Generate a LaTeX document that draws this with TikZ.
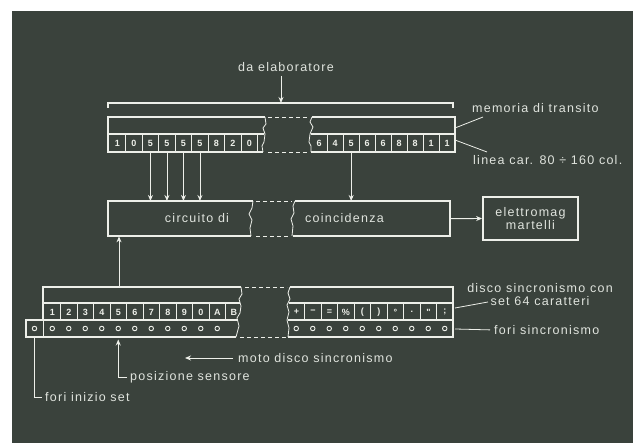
\documentclass[tikz,border=0pt]{standalone}
\usepackage{fontspec}
\setmainfont{Liberation Sans}
\newfontfamily\lblfam[LetterSpace=10]{Liberation Sans}
\newfontfamily\cellfam{Liberation Sans}
\usetikzlibrary{arrows.meta}
\definecolor{bg}{HTML}{3A423C}
\definecolor{ink}{HTML}{EDEFE9}
\definecolor{txt}{HTML}{E0E4DE}
\begin{document}
\begin{tikzpicture}[x=1pt,y=-1pt,
  ln/.style={draw=ink, line width=0.9pt},
  sep/.style={draw=ink, line width=0.9pt},
  boxln/.style={draw=ink, line width=1.8pt, line join=miter},
  jagln/.style={draw=ink, line width=0.8pt},
  dsh/.style={draw=ink, line width=0.8pt, dash pattern=on 4pt off 3pt},
  arr/.style={draw=ink, line width=0.9pt, -{Stealth[length=6pt,width=5pt]}},
  lbl/.style={text=txt, font=\lblfam\fontsize{12.5}{13}\selectfont, inner sep=0pt},
  cellt/.style={text=ink, font=\cellfam\bfseries\fontsize{9}{10}\selectfont, inner sep=0pt,
                minimum width=16.5pt, minimum height=17pt, anchor=north west},
  hole/.style={draw=ink, line width=0.9pt, circle, inner sep=0pt, minimum size=4.5pt},
  part/.style={inner sep=0pt, anchor=north west}
]
\useasboundingbox (0,0) rectangle (633,443);
\fill[white] (0,0) rectangle (633,443);
\fill[bg] (12,11) rectangle (633,443);

% ---------- labels ----------
\node[lbl] (elab) at (286,67) {da elaboratore};
\node[lbl, anchor=west] (memlab) at (472,108) {memoria di transito};
\node[lbl, anchor=west] (linlab) at (473,160) {linea car. 80 ÷ 160 col.};
\node[lbl, align=center] (disclab) at (540,295) {disco sincronismo con\\set 64 caratteri};
\node[lbl, anchor=west] (forilab) at (494,330) {fori sincronismo};
\node[lbl, anchor=west] (moto) at (238,358) {moto disco sincronismo};
\node[lbl, anchor=west] (posl) at (130,377) {posizione sensore};
\node[lbl, anchor=west] (fis) at (45,397) {fori inizio set};

% ---------- part anchors ----------
\node[part, minimum width=157pt, minimum height=35pt] (memL) at (108,117) {};
\node[part, minimum width=145pt, minimum height=35pt] (memR) at (310,117) {};
\node[part, minimum width=145pt, minimum height=35pt] (circL) at (108,201) {};
\node[part, minimum width=157pt, minimum height=35pt] (circR) at (293,201) {};
\node[part, minimum width=198pt, minimum height=50pt] (dL) at (43,287) {};
\node[part, minimum width=166pt, minimum height=50pt] (dR) at (287,287) {};
\node[draw=ink, line width=1.8pt, minimum width=95pt, minimum height=43pt, align=center,
      text=txt, font=\lblfam\fontsize{12.5}{13}\selectfont, inner sep=0pt] (elet) at (530.5,218.5) {elettromag\\martelli};

% ---------- bracket ----------
\coordinate (brk) at (281,103);
\draw[ln, line width=1.2pt] (108,108) -- (108,103) -- (453,103) -- (453,108);

% ---------- memoria di transito ----------
\draw[boxln] (265,117) -- (108,117) -- (108,152) -- (263,152);
\draw[boxln] (108,134) -- (264,134);
\draw[jagln] (265,117) -- (266,124) -- (263,128) -- (265,134) -- (264,142) -- (262,146) -- (263,152);
\draw[boxln] (312,117) -- (455,117) -- (455,152) -- (311,152);
\draw[boxln] (311,134) -- (455,134);
\draw[jagln] (312,117) -- (310,122) -- (313,127) -- (310,134) -- (309,142) -- (311,146) -- (311,152);
\draw[dsh] (268,117) -- (308,117);
\draw[dsh] (268,152) -- (308,152);
\foreach \c [count=\i from 0] in {1,0,5,5,5,5,8,2,0}
  \node[cellt] (mL\i) at (109+16.5*\i,134.5) {\c};
\foreach \i in {1,...,9} \draw[sep] (109+16.5*\i,134) -- ++(0,18);
\foreach \c [count=\i from 0] in {6,4,5,6,6,8,8,1,1}
  \node[cellt, minimum width=16pt] (mR\i) at (311+16*\i,134.5) {\c};
\foreach \i in {1,...,8} \draw[sep] (311+16*\i,134) -- ++(0,18);

% ---------- circuito di coincidenza ----------
\draw[boxln] (253,201) -- (108,201) -- (108,236) -- (251,236);
\draw[jagln] (253,201) -- (252,208) -- (249,214) -- (252,220) -- (250,228) -- (251,236);
\draw[boxln] (295,201) -- (450,201) -- (450,236) -- (293,236);
\draw[jagln] (295,201) -- (293,206) -- (294,213) -- (291,219) -- (293,226) -- (292,236);
\draw[dsh] (256,201) -- (292,201);
\draw[dsh] (256,236) -- (290,236);
\node[lbl] (circT) at (197,218) {circuito di};
\node[lbl, anchor=west] (coinT) at (305,218) {coincidenza};

% ---------- disco sincronismo ----------
\draw[boxln] (241,287) -- (43,287) -- (43,320) -- (26,320) -- (26,337) -- (236,337);
\draw[boxln] (43,303) -- (240,303);
\draw[boxln] (43,320) -- (238,320);
\draw[sep] (43,320) -- (43,337);
\draw[jagln] (241,287) -- (242,294) -- (239,299) -- (241,306) -- (240,313) -- (237,318) -- (239,326) -- (236,337);
\draw[boxln] (290,287) -- (453,287) -- (453,337) -- (288,337);
\draw[boxln] (289,303) -- (453,303);
\draw[boxln] (288,320) -- (453,320);
\draw[jagln] (290,287) -- (288,293) -- (290,299) -- (287,305) -- (289,312) -- (287,320) -- (289,328) -- (288,337);
\draw[dsh] (245,287) -- (287,287);
\draw[dsh] (240,337) -- (286,337);
\foreach \c [count=\i from 0] in {1,2,3,4,5,6,7,8,9,0,A,B}
  \node[cellt] (dc\i) at (44+16.5*\i,303.5) {\c};
\foreach \i in {1,...,11} \draw[sep] (44+16.5*\i,303) -- ++(0,17);
\foreach \c [count=\i from 0] in {+,−,=,\%,{(},{)},°,.,",;}
  \node[cellt] (rc\i) at (288+16.5*\i,303.5) {\c};
\foreach \i in {1,...,9} \draw[sep] (288+16.5*\i,303) -- ++(0,17);
\node[hole] (hX) at (34.5,328.5) {};
\foreach \i in {0,...,10} \node[hole] (hL\i) at (52.25+16.5*\i,328.5) {};
\foreach \i in {0,...,9} \node[hole] (hR\i) at (296.25+16.5*\i,328.5) {};

% ---------- connectors ----------
\draw[arr, shorten <=4pt] (elab.south -| brk) -- (brk);
\foreach \i in {2,...,5} \draw[arr] (mL\i.south) -- (mL\i.south |- circL.north);
\draw[arr] (mR2.south) -- (mR2.south |- circR.north);
\draw[arr] (circR.east) -- (elet.west);
\coordinate (upB) at (119,287);
\draw[arr] (upB) -- (upB |- circL.south);
% leaders
\coordinate (lm1) at (455,128);
\coordinate (lm2) at (483,117);
\draw[ln, line width=0.8pt] (lm1) -- (lm2);
\coordinate (ll1) at (455,140);
\coordinate (ll2) at (487,152);
\draw[ln, line width=0.8pt] (ll1) -- (ll2);
\coordinate (ld1) at (455,308);
\coordinate (ld2) at (488,302);
\draw[ln, line width=0.8pt] (ld1) -- (ld2);
\coordinate (lf1) at (455,329);
\draw[ln, line width=0.8pt, shorten >=4pt] (lf1) -- (forilab.west);
% bottom annotations
\draw[arr, shorten <=5pt] (moto.west) -- ++(-53,0);
\coordinate (sens) at (hL4 |- posl.west);
\coordinate (sensTip) at (118.25,339.5);
\draw[arr, shorten <=3pt] (posl.west) -- (sens) -- (sensTip);
\draw[ln, shorten >=3pt] (hX |- dL.south) -- (hX |- fis.west) -- (fis.west);
\end{tikzpicture}
\end{document}
